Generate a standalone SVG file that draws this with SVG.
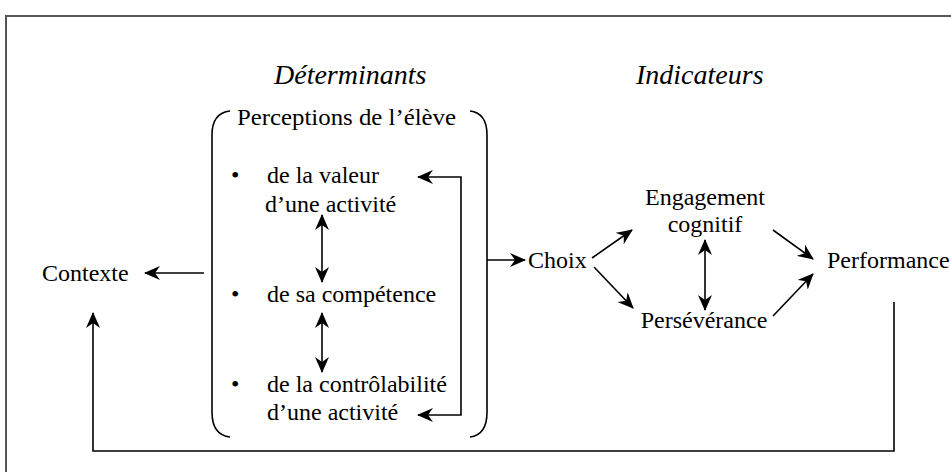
<svg xmlns="http://www.w3.org/2000/svg" width="951" height="472" viewBox="0 0 951 472">
<defs>
<style>
text{font-family:"Liberation Serif","Times New Roman",serif;font-size:24px;fill:#000}
.h{font-style:italic;font-size:28px}
.ln{fill:none;stroke:#000;stroke-width:1.6}
.fr{fill:none;stroke:#555;stroke-width:2}
</style>
<marker id="ah" viewBox="0 0 16 14" refX="15" refY="7" markerWidth="16" markerHeight="14" markerUnits="userSpaceOnUse" orient="auto-start-reverse">
<path d="M0,0 L16,7 L0,14 L5,7 z" fill="#000"/>
</marker>
</defs>
<rect width="951" height="472" fill="#fff"/>
<path class="fr" d="M6,472 V16 H951"/>
<g id="headings">
<text class="h" x="274" y="84">Déterminants</text>
<text class="h" x="636" y="84">Indicateurs</text>
</g>
<g id="determinants">
<path class="ln" d="M230,111 Q212,113 212,135 V412 Q212,435 230,437"/>
<path class="ln" d="M470,111 Q487,113 487,135 V412 Q487,435 470,437"/>
<text x="237" y="125" textLength="219" lengthAdjust="spacingAndGlyphs">Perceptions de l’élève</text>
<text x="231" y="183">•</text>
<text x="267" y="183">de la valeur</text>
<text x="265" y="212">d’une activité</text>
<text x="231" y="302">•</text>
<text x="267" y="302">de sa compétence</text>
<text x="231" y="392">•</text>
<text x="267" y="392">de la contrôlabilité</text>
<text x="267" y="420">d’une activité</text>
</g>
<g id="contexte"><text x="42" y="281">Contexte</text></g>
<g id="choix"><text x="528" y="268">Choix</text></g>
<g id="engagement"><text x="705" y="205" text-anchor="middle">Engagement</text><text x="705" y="232" text-anchor="middle">cognitif</text></g>
<g id="perseverance"><text x="704" y="328" text-anchor="middle">Persévérance</text></g>
<g id="performance"><text x="827" y="268">Performance</text></g>
<g id="connectors">
<path class="ln" d="M204,273 H145" marker-end="url(#ah)"/>
<path class="ln" d="M487,260 H525" marker-end="url(#ah)"/>
<path class="ln" d="M418,177 H461 V415 H418" marker-start="url(#ah)" marker-end="url(#ah)"/>
<path class="ln" d="M322,215 V282" marker-start="url(#ah)" marker-end="url(#ah)"/>
<path class="ln" d="M322,313 V372" marker-start="url(#ah)" marker-end="url(#ah)"/>
<path class="ln" d="M592,258 L632,230" marker-end="url(#ah)"/>
<path class="ln" d="M594,267 L633,308" marker-end="url(#ah)"/>
<path class="ln" d="M705,240 V310" marker-start="url(#ah)" marker-end="url(#ah)"/>
<path class="ln" d="M773,230 L813,259" marker-end="url(#ah)"/>
<path class="ln" d="M773,316 L813,274" marker-end="url(#ah)"/>
<path class="ln" d="M894,302 V451 H93 V313" marker-end="url(#ah)"/>
</g>
</svg>
